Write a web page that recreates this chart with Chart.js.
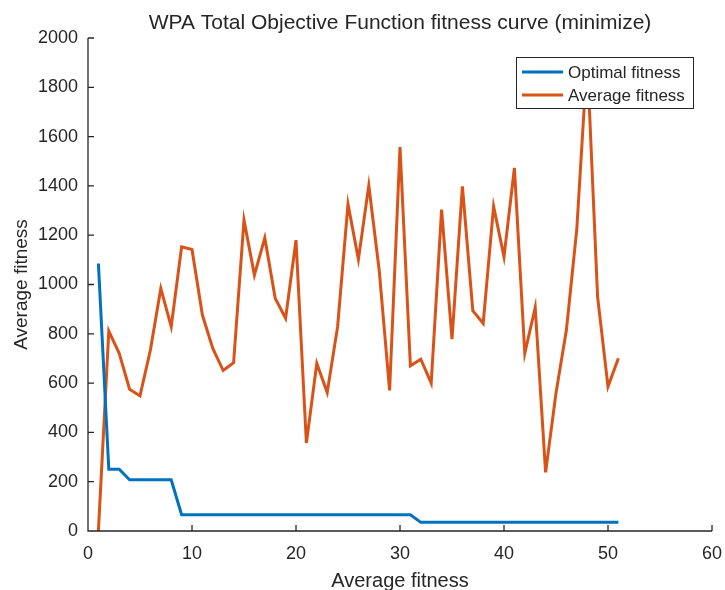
<!DOCTYPE html>
<html>
<head>
<meta charset="utf-8">
<script src="https://cdn.jsdelivr.net/npm/chart.js@4/dist/chart.umd.min.js"></script>
<style>
  html, body { margin: 0; padding: 0; background: #fff; }
  #chart { display: block; }
</style>
</head>
<body>
<canvas id="chart" width="725" height="590"></canvas>
<script>
const iterations = [1, 2, 3, 4, 5, 6, 7, 8, 9, 10, 11, 12, 13, 14, 15, 16, 17, 18, 19, 20,
    21, 22, 23, 24, 25, 26, 27, 28, 29, 30, 31, 32, 33, 34, 35, 36, 37, 38, 39, 40,
    41, 42, 43, 44, 45, 46, 47, 48, 49, 50, 51];

const optimalFitness = [1085, 251, 251, 208, 208, 208, 208, 208, 66, 66,
    66, 66, 66, 66, 66, 66, 66, 66, 66, 66,
    66, 66, 66, 66, 66, 66, 66, 66, 66, 66,
    66, 35, 35, 35, 35, 35, 35, 35, 35, 35,
    35, 35, 35, 35, 35, 35, 35, 35, 35, 35, 35];

const averageFitness = [0, 811, 721, 575, 548, 734, 984, 829, 1153, 1142,
    876, 741, 651, 683, 1261, 1038, 1189, 944, 863, 1180,
    357, 680, 562, 829, 1326, 1102, 1402, 1058, 570, 1558,
    670, 697, 600, 1304, 778, 1398, 894, 842, 1317, 1112,
    1473, 721, 907, 238, 560, 815, 1225, 1920, 950, 586, 701];

const xTicks = [0, 10, 20, 30, 40, 50, 60];
const yTicks = [0, 200, 400, 600, 800, 1000, 1200, 1400, 1600, 1800, 2000];

const chartTitle = 'WPA Total Objective Function fitness curve (minimize)';

const FONT = 'Liberation Sans, Arial, Helvetica, sans-serif';
const AXIS_COLOR = '#262626';

const toPoints = (ys) => ys.map((y, i) => ({ x: iterations[i], y: y }));

// title centred over the axes, not the canvas
const axesTitle = {
    id: 'axesTitle',
    afterDraw(chart) {
        const { ctx, chartArea: a } = chart;
        ctx.save();
        ctx.font = '21px ' + FONT;
        ctx.fillStyle = AXIS_COLOR;
        ctx.textAlign = 'center';
        ctx.textBaseline = 'middle';
        ctx.fillText(chartTitle, (a.left + a.right) / 2, 23);
        ctx.restore();
    }
};

// matlab style axes: left + bottom only, ticks pointing inward
const innerAxes = {
    id: 'innerAxes',
    afterDatasetsDraw(chart) {
        const { ctx, chartArea: a, scales: { x, y } } = chart;
        ctx.save();
        ctx.strokeStyle = AXIS_COLOR;
        ctx.lineWidth = 1.3;
        ctx.beginPath();
        ctx.moveTo(a.left, a.top);
        ctx.lineTo(a.left, a.bottom);
        ctx.lineTo(a.right, a.bottom);
        xTicks.forEach(v => {
            const px = x.getPixelForValue(v);
            ctx.moveTo(px, a.bottom);
            ctx.lineTo(px, a.bottom - 6);
        });
        yTicks.forEach(v => {
            const py = y.getPixelForValue(v);
            ctx.moveTo(a.left, py);
            ctx.lineTo(a.left + 6, py);
        });
        ctx.stroke();
        ctx.restore();
    }
};

// legend box in the upper right corner of the axes
const boxLegend = {
    id: 'boxLegend',
    afterDatasetsDraw(chart) {
        const { ctx, chartArea: a } = chart;
        const w = 177, h = 51;
        const left = a.right - 196, top = a.top + 19;
        ctx.save();
        ctx.fillStyle = '#fff';
        ctx.fillRect(left, top, w, h);
        ctx.strokeStyle = AXIS_COLOR;
        ctx.lineWidth = 1;
        ctx.strokeRect(left + 0.5, top + 0.5, w, h);
        ctx.font = '17px ' + FONT;
        ctx.textBaseline = 'middle';
        chart.data.datasets.forEach((ds, i) => {
            const ly = top + 15 + i * 23;
            ctx.strokeStyle = ds.borderColor;
            ctx.lineWidth = 3;
            ctx.beginPath();
            ctx.moveTo(left + 6, ly);
            ctx.lineTo(left + 47, ly);
            ctx.stroke();
            ctx.fillStyle = AXIS_COLOR;
            ctx.fillText(ds.label, left + 52, ly + 1);
        });
        ctx.restore();
    }
};

new Chart(document.getElementById('chart'), {
    type: 'line',
    data: {
        datasets: [
            {
                label: 'Optimal fitness',
                data: toPoints(optimalFitness),
                borderColor: '#0072BD',
                borderWidth: 3,
                pointRadius: 0,
                tension: 0
            },
            {
                label: 'Average fitness',
                data: toPoints(averageFitness),
                borderColor: '#D95319',
                borderWidth: 3,
                pointRadius: 0,
                tension: 0
            }
        ]
    },
    options: {
        responsive: false,
        animation: false,
        layout: { padding: { top: 38, right: 13, bottom: 0, left: 0 } },
        plugins: {
            legend: { display: false },
            tooltip: { enabled: false },
            title: { display: false }
        },
        scales: {
            x: {
                type: 'linear',
                min: 0,
                max: 60,
                grid: { display: false, drawTicks: false },
                border: { display: false },
                afterBuildTicks: (s) => { s.ticks = xTicks.map(v => ({ value: v })); },
                afterFit: (s) => { s.height = 59; s.paddingLeft = 0; s.paddingRight = 0; },
                ticks: {
                    color: AXIS_COLOR,
                    font: { family: FONT, size: 18 },
                    padding: 12,
                    maxRotation: 0,
                    autoSkip: false,
                    callback: (v) => String(v)
                },
                title: {
                    display: true,
                    text: 'Average fitness',
                    color: AXIS_COLOR,
                    font: { family: FONT, size: 20, lineHeight: 1 },
                    padding: { top: 0, bottom: -1 }
                }
            },
            y: {
                min: 0,
                max: 2000,
                grid: { display: false, drawTicks: false },
                border: { display: false },
                afterBuildTicks: (s) => { s.ticks = yTicks.map(v => ({ value: v })); },
                afterFit: (s) => { s.width = 88; s.paddingTop = 0; s.paddingBottom = 0; },
                ticks: {
                    color: AXIS_COLOR,
                    font: { family: FONT, size: 18 },
                    padding: 10,
                    autoSkip: false,
                    callback: (v) => String(v)
                },
                title: {
                    display: true,
                    text: 'Average fitness',
                    color: AXIS_COLOR,
                    font: { family: FONT, size: 19, lineHeight: 1.2 },
                    padding: { top: 10, bottom: 0 }
                }
            }
        }
    },
    plugins: [innerAxes, boxLegend, axesTitle]
});
</script>
</body>
</html>
